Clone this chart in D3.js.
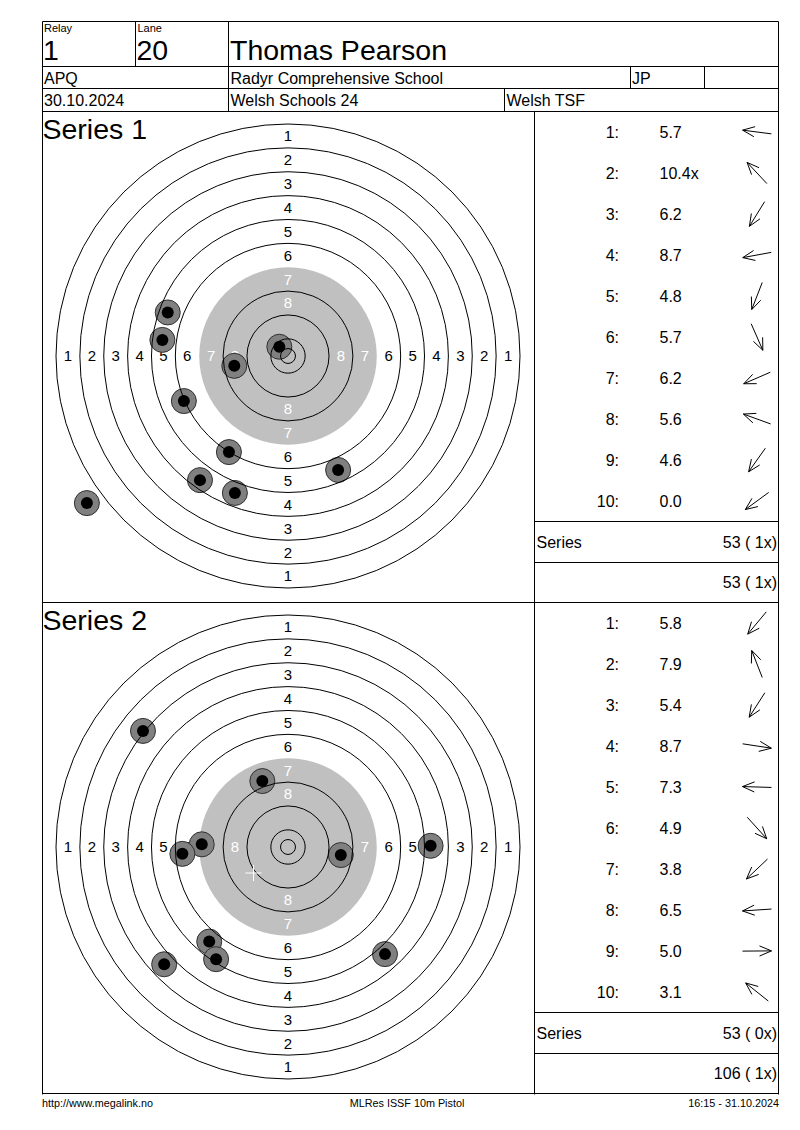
<!DOCTYPE html>
<html>
<head>
<meta charset="utf-8">
<script src="https://cdn.jsdelivr.net/npm/d3@7"></script>
<style>
body { margin: 0; background: #fff; }
text { font-family: "Liberation Sans", Arial, sans-serif; fill: #000; }
</style>
</head>
<body>
<div id="card"></div>
<script>
// header
var relay = "1", lane = "20", shooter = "Thomas Pearson";
var row2 = ["APQ", "Radyr Comprehensive School", "JP", ""];
var row3 = ["30.10.2024", "Welsh Schools 24", "Welsh TSF"];
var footer = ["http://www.megalink.no", "MLRes ISSF 10m Pistol", "16:15 - 31.10.2024"];

// ISSF 10m pistol target, diameters in mm
var ringNums = [1, 2, 3, 4, 5, 6, 7, 8, 9, 10];
var ringDiam = [155.5, 139.5, 123.5, 107.5, 91.5, 75.5, 59.5, 43.5, 27.5, 11.5];
var innerTen = 5.0;
var blackDiam = 59.5;
var labelRings = [1, 2, 3, 4, 5, 6, 7, 8];

// series 1 - shot positions in mm from centre (y up)
var s1x = [-42.1, -2.9, -19.8, -18.0, -17.8, 16.8, -34.9, -40.3, -29.5, -67.4];
var s1y = [5.4, 3.1, -32.2, -3.3, -45.9, -38.2, -15.1, 14.6, -41.6, -49.3];
var s1score = ["5.7", "10.4x", "6.2", "8.7", "4.8", "5.7", "6.2", "5.6", "4.6", "0.0"];
var s1total = "53 ( 1x)", s1cum = "53 ( 1x)";

// series 2
var s2x = [-26.4, -8.6, -24.1, 17.7, -28.9, 32.5, -41.5, -35.4, 47.8, -48.6];
var s2y = [-31.7, 22.1, -37.6, -2.7, 0.9, -35.9, -39.3, -2.3, 0.4, 38.9];
var s2score = ["5.8", "7.9", "5.4", "8.7", "7.3", "4.9", "3.8", "6.5", "5.0", "3.1"];
var s2total = "53 ( 0x)", s2cum = "106 ( 1x)";

var W = 800, H = 1130;
var L = 42.5, R = 778.5, divX = 534.5;
var svg = d3.select("#card").append("svg")
    .attr("width", W)
    .attr("height", H);

function hline(x1, x2, y) {
  svg.append("line").attr("x1", x1).attr("x2", x2).attr("y1", y).attr("y2", y)
     .attr("stroke", "#000").attr("stroke-width", 1);
}
function vline(x, y1, y2) {
  svg.append("line").attr("x1", x).attr("x2", x).attr("y1", y1).attr("y2", y2)
     .attr("stroke", "#000").attr("stroke-width", 1);
}
function txt(s, x, y, size, anchor) {
  return svg.append("text").attr("x", x).attr("y", y)
     .attr("font-size", size).attr("text-anchor", anchor || "start").text(s);
}

// header grid
hline(L, R, 21.5);
hline(L, R, 66.5);
hline(L, R, 88.5);
hline(L, R, 111.5);
vline(L, 21.5, 1094.5);
vline(R, 21.5, 1094.5);
vline(135.5, 21.5, 66.5);
vline(228.5, 21.5, 111.5);
vline(630.5, 66.5, 88.5);
vline(704.5, 66.5, 88.5);
vline(504.5, 88.5, 111.5);

txt("Relay", 44, 31.5, 11);
txt("Lane", 137.5, 31.5, 11);
txt(relay, 43, 60, 28.5);
txt(lane, 136.5, 60, 28.5);
txt(shooter, 230, 60, 28.5);
txt(row2[0], 44, 83.5, 16);
txt(row2[1], 230.5, 83.5, 16);
txt(row2[2], 632, 83.5, 16);
txt(row2[3], 706, 83.5, 16);
txt(row3[0], 44, 106, 16);
txt(row3[1], 230.5, 106, 16);
txt(row3[2], 506.5, 106, 16);

var k = 232 / (ringDiam[0] / 2);   // px per mm
var rowH = 41;

function drawSeries(idx, top, xs, ys, scores, total, cum) {
  var cx = 288, cy = top + 244.5;
  var x = d3.scaleLinear().domain([-1, 1]).range([cx - k, cx + k]);
  var y = d3.scaleLinear().domain([-1, 1]).range([cy + k, cy - k]);
  var r = d3.scaleLinear().domain([0, 1]).range([0, k]);

  txt("Series " + idx, 42.5, top + 27.5, 28.5);

  var g = svg.append("g");
  g.append("circle").attr("cx", x(0)).attr("cy", y(0))
    .attr("r", r(blackDiam / 2)).attr("fill", "#c0c0c0");

  // ring labels on four axes
  var dirs = [[0, 1], [0, -1], [-1, 0], [1, 0]];
  labelRings.forEach(function(n) {
    var rm = (ringDiam[n - 1] + ringDiam[n]) / 4;
    dirs.forEach(function(d) {
      g.append("text")
        .attr("x", x(d[0] * rm)).attr("y", y(d[1] * rm))
        .attr("dy", "0.36em")
        .attr("text-anchor", "middle")
        .attr("font-size", 15)
        .style("fill", n >= 7 ? "#fff" : "#000")
        .text(n);
    });
  });

  // shots
  var shots = xs.map(function(v, i) { return { x: v, y: ys[i] }; });
  g.selectAll(".halo").data(shots).enter().append("circle")
    .attr("cx", function(d) { return x(d.x); })
    .attr("cy", function(d) { return y(d.y); })
    .attr("r", 12.5)
    .attr("fill", "#808080")
    .attr("stroke", "#303030")
    .attr("stroke-width", 1);
  g.selectAll(".hole").data(shots).enter().append("circle")
    .attr("cx", function(d) { return x(d.x); })
    .attr("cy", function(d) { return y(d.y); })
    .attr("r", 6)
    .attr("fill", "#000");

  // ring lines (ring 7 edge is the grey disc)
  var lines = ringDiam.filter(function(d, i) { return ringNums[i] != 7; }).concat([innerTen]);
  g.selectAll(".ring").data(lines).enter().append("circle")
    .attr("cx", x(0)).attr("cy", y(0))
    .attr("r", function(d) { return r(d / 2); })
    .attr("fill", "none")
    .attr("stroke", "#000")
    .attr("stroke-width", 1);

  // mean point of impact
  var mx = x(d3.mean(xs)), my = y(d3.mean(ys));
  g.append("line").attr("x1", mx - 8).attr("x2", mx + 8).attr("y1", my).attr("y2", my)
    .attr("stroke", "#fff").attr("stroke-width", 1);
  g.append("line").attr("x1", mx).attr("x2", mx).attr("y1", my - 8).attr("y2", my + 8)
    .attr("stroke", "#fff").attr("stroke-width", 1);

  // shot list
  var line = d3.line();
  shots.forEach(function(s, i) {
    var yc = top + rowH * (i + 0.5);
    txt((i + 1) + ":", 619, yc + 5.5, 16, "end");
    txt(scores[i], 659.5, yc + 5.5, 16);
    var a = Math.atan2(s.y, s.x);
    var ux = Math.cos(a), uy = -Math.sin(a);
    var ax = 757, hl = 14.5;
    var tip = [ax + ux * hl, yc + uy * hl];
    var tail = [ax - ux * hl, yc - uy * hl];
    var ha = 0.4, hs = 13;
    var h1 = [tip[0] - hs * Math.cos(Math.atan2(uy, ux) - ha), tip[1] - hs * Math.sin(Math.atan2(uy, ux) - ha)];
    var h2 = [tip[0] - hs * Math.cos(Math.atan2(uy, ux) + ha), tip[1] - hs * Math.sin(Math.atan2(uy, ux) + ha)];
    svg.append("path").attr("d", line([tail, tip]) + line([h1, tip, h2]))
      .attr("fill", "none").attr("stroke", "#000").attr("stroke-width", 1);
  });

  hline(divX, R, top + 10 * rowH);
  hline(divX, R, top + 10 * rowH + 41);
  hline(L, R, top + 10 * rowH + 81);
  txt("Series", 536.5, top + 10 * rowH + 26, 16);
  txt(total, 777, top + 10 * rowH + 26, 16, "end");
  txt(cum, 777, top + 10 * rowH + 66.5, 16, "end");
}

vline(divX, 111.5, 1094.5);
drawSeries(1, 111.5, s1x, s1y, s1score, s1total, s1cum);
drawSeries(2, 602.5, s2x, s2y, s2score, s2total, s2cum);

txt(footer[0], 42, 1107, 10.8);
txt(footer[1], 407, 1107, 10.8, "middle");
txt(footer[2], 779, 1107, 10.8, "end");
</script>
</body>
</html>
